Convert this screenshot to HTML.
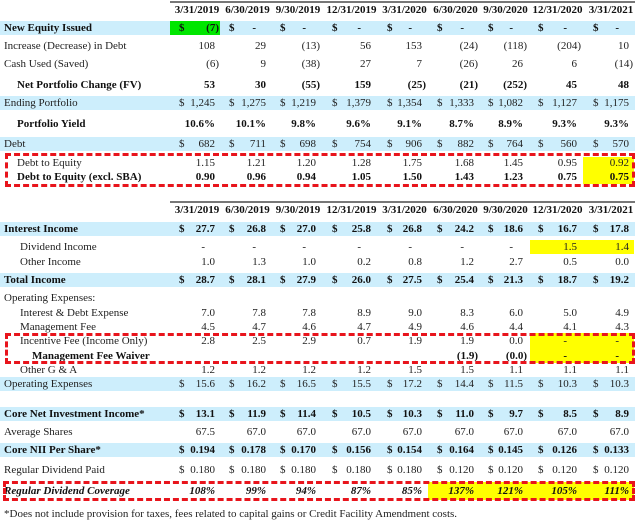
<!DOCTYPE html>
<html><head><meta charset="utf-8"><style>
body{margin:0;width:640px;height:523px;background:#fff;position:relative;overflow:hidden;font-family:"Liberation Serif",serif;font-size:11px;color:#222}
.a{position:absolute;white-space:nowrap;line-height:14px}
.band{position:absolute;left:0;width:635px;height:14px;background:#cdeefc}
.hl{position:absolute}
.box{position:absolute;border:3px dashed #e8141c;box-sizing:border-box}
.b{font-weight:bold;color:#111}
.hr{position:absolute;height:2px;background:#777}
</style></head><body>
<script>
const dates=["3/31/2019","6/30/2019","9/30/2019","12/31/2019","3/31/2020","6/30/2020","9/30/2020","12/31/2020","3/31/2021"];
const rightEdges=[215,266,316,371,422,474,523,577,629];
const dollarX=[179,229,280,332,387,437,488,538,593];
// [label, y, indent, bold, dollar, italic, values]
const rows1=[
["New Equity Issued",28,4,1,1,0,["(7)","-","-","-","-","-","-","-","-"]],
["Increase (Decrease) in Debt",46,4,0,0,0,["108","29","(13)","56","153","(24)","(118)","(204)","10"]],
["Cash Used (Saved)",64,4,0,0,0,["(6)","9","(38)","27","7","(26)","26","6","(14)"]],
["Net Portfolio Change (FV)",85,17,1,0,0,["53","30","(55)","159","(25)","(21)","(252)","45","48"]],
["Ending Portfolio",103,4,0,1,0,["1,245","1,275","1,219","1,379","1,354","1,333","1,082","1,127","1,175"]],
["Portfolio Yield",124,17,1,0,0,["10.6%","10.1%","9.8%","9.6%","9.1%","8.7%","8.9%","9.3%","9.3%"]],
["Debt",144,4,0,1,0,["682","711","698","754","906","882","764","560","570"]],
["Debt to Equity",163,17,0,0,0,["1.15","1.21","1.20","1.28","1.75","1.68","1.45","0.95","0.92"]],
["Debt to Equity (excl. SBA)",177,17,1,0,0,["0.90","0.96","0.94","1.05","1.50","1.43","1.23","0.75","0.75"]]
];
const rows2=[
["Interest Income",229,4,1,1,0,["27.7","26.8","27.0","25.8","26.8","24.2","18.6","16.7","17.8"]],
["Dividend Income",247,20,0,0,0,["-","-","-","-","-","-","-","1.5","1.4"]],
["Other Income",262,20,0,0,0,["1.0","1.3","1.0","0.2","0.8","1.2","2.7","0.5","0.0"]],
["Total Income",280,4,1,1,0,["28.7","28.1","27.9","26.0","27.5","25.4","21.3","18.7","19.2"]],
["Operating Expenses:",298,4,0,0,0,["","","","","","","","",""]],
["Interest & Debt Expense",313,20,0,0,0,["7.0","7.8","7.8","8.9","9.0","8.3","6.0","5.0","4.9"]],
["Management Fee",327,20,0,0,0,["4.5","4.7","4.6","4.7","4.9","4.6","4.4","4.1","4.3"]],
["Incentive Fee (Income Only)",341,20,0,0,0,["2.8","2.5","2.9","0.7","1.9","1.9","0.0","-","-"]],
["Management Fee Waiver",356,32,1,0,0,["","","","","","(1.9)","(0.0)","-","-"]],
["Other G & A",370,20,0,0,0,["1.2","1.2","1.2","1.2","1.5","1.5","1.1","1.1","1.1"]],
["Operating Expenses",384,4,0,1,0,["15.6","16.2","16.5","15.5","17.2","14.4","11.5","10.3","10.3"]],
["Core Net Investment Income*",414,4,1,1,0,["13.1","11.9","11.4","10.5","10.3","11.0","9.7","8.5","8.9"]],
["Average Shares",432,4,0,0,0,["67.5","67.0","67.0","67.0","67.0","67.0","67.0","67.0","67.0"]],
["Core NII Per Share*",450,4,1,1,0,["0.194","0.178","0.170","0.156","0.154","0.164","0.145","0.126","0.133"]],
["Regular Dividend Paid",470,4,0,1,0,["0.180","0.180","0.180","0.180","0.180","0.120","0.120","0.120","0.120"]],
["Regular Dividend Coverage",491,4,1,0,1,["108%","99%","94%","87%","85%","137%","121%","105%","111%"]]
];
const bandYs=[28,103,144,229,280,384,414,450];
function mk(cls,x,y,w,h,bg){const d=document.createElement('div');d.className=cls;d.style.left=x+'px';d.style.top=y+'px';if(w)d.style.width=w+'px';if(h)d.style.height=h+'px';if(bg)d.style.background=bg;document.body.appendChild(d);return d;}
for(const y of bandYs){const d=mk('band',0,y-7);

}
const hls=[[170,21,50,14,'#00e600'],[583,157,51,27,'#ffff00'],[530,240,104,14,'#ffff00'],[530,333,104,30,'#ffff00'],[428,482,206,18,'#ffff00']];
for(const h of hls){const d=mk('hl',h[0],h[1],h[2],h[3],h[4]);

}
function header(y){const l=mk('hr',170,y-9,465,2,'#777');


dates.forEach((t,i)=>{const c=(dollarX[i]+rightEdges[i])/2;const d=mk('a b',c-30,y-7,60);d.style.textAlign='center';d.textContent=t;

});}
header(10);header(210);
function rowsOut(rows){for(const r of rows){const [lab,y,ind,b,dol,it,vals]=r;
const L=mk('a'+(b?' b':''),ind,y-7);L.textContent=lab;if(it)L.style.fontStyle='italic';


vals.forEach((v,i)=>{if(v==='')return;let rr=rightEdges[i];if(v.endsWith(')'))rr+=4;if(v==='-')rr-=10;
const d=mk('a'+(b?' b':''),0,y-7);d.style.left='';d.style.right=(640-rr)+'px';d.textContent=v;if(it)d.style.fontStyle='italic';


if(dol){const s=mk('a'+(b?' b':''),dollarX[i],y-7);s.textContent='$';

}});}}
rowsOut(rows1);rowsOut(rows2);
const boxes=[[5,153,630,34],[5,333,630,31],[3,481,632,20]];
for(const bx of boxes){const d=mk('box',bx[0],bx[1],bx[2],bx[3]);

}
const f=mk('a',4,507);f.textContent='*Does not include provision for taxes, fees related to capital gains or Credit Facility Amendment costs.';


</script>
</body></html>
